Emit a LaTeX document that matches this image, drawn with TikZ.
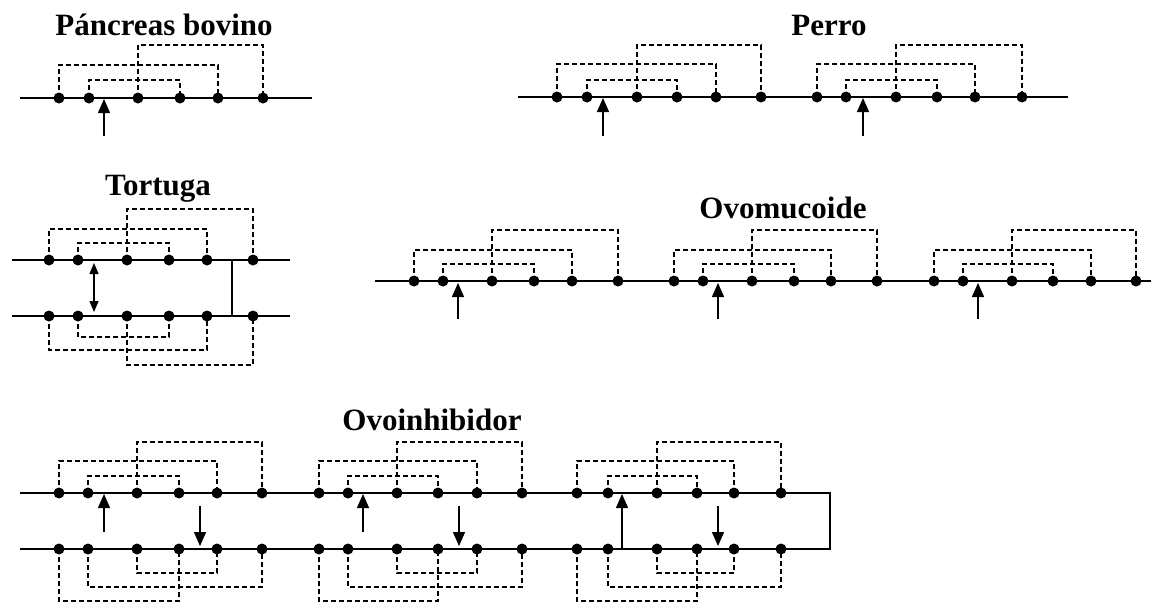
\documentclass[tikz,border=0pt]{standalone}
\usepackage{fontspec}
\setmainfont{Liberation Serif}
\usetikzlibrary{arrows.meta}
\tikzset{
  x=1pt, y=-1pt,
  dot/.style={circle,fill=black,draw=none,inner sep=0pt,minimum size=11pt},
  dsh/.style={line width=1.2pt,dash pattern=on 5pt off 3pt},
  strand/.style={line width=1.5pt},
  arr/.style={line width=1.4pt,-{Triangle[length=14pt,width=12pt]}},
  darr/.style={line width=1.4pt,{Triangle[length=11pt,width=9pt]}-{Triangle[length=11pt,width=9pt]}},
  ttl/.style={font=\fontsize{31}{31}\selectfont\bfseries,anchor=base,inner sep=0pt},
}
\newcommand\placedots[3]{\foreach \xx [count=\ii] in {#3}{\node[dot] (#1\ii) at (\xx,#2) {};}}
\newcommand\brk[3]{\draw[dsh] (#1.center) -- (#1.center |- 0,#3) -| (#2.center);}
\newcommand\mkarrow[4]{\coordinate (#1a) at (#2,#3); \coordinate (#1b) at (#2,#4); \draw[arr] (#1a) -- (#1b);}
\begin{document}
\begin{tikzpicture}
\useasboundingbox (0,0) rectangle (1151,603);

% ---------- Pancreas bovino ----------
\node[ttl] (tPB) at (164,35) {Páncreas bovino};
\coordinate (pbL) at (20,98); \coordinate (pbR) at (312,98);
\draw[strand] (pbL) -- (pbR);
\placedots{pb}{98}{59,89,138,180,218,263}
\brk{pb3}{pb6}{45} \brk{pb1}{pb5}{65} \brk{pb2}{pb4}{80}
\mkarrow{pbA}{104}{136}{99}

% ---------- Perro ----------
\node[ttl] (tPe) at (829,35) {Perro};
\coordinate (peL) at (518,97); \coordinate (peR) at (1068,97);
\draw[strand] (peL) -- (peR);
\placedots{peA}{97}{557,587,637,677,716,761}
\placedots{peB}{97}{817,846,896,937,975,1022}
\brk{peA3}{peA6}{45} \brk{peA1}{peA5}{64} \brk{peA2}{peA4}{80}
\brk{peB3}{peB6}{45} \brk{peB1}{peB5}{64} \brk{peB2}{peB4}{80}
\mkarrow{peX}{603}{136}{98}
\mkarrow{peY}{863}{136}{98}

% ---------- Tortuga ----------
\node[ttl] (tTu) at (158,195) {Tortuga};
\coordinate (tuL1) at (12,260); \coordinate (tuR1) at (290,260);
\coordinate (tuL2) at (12,316); \coordinate (tuR2) at (290,316);
\draw[strand] (tuL1) -- (tuR1);
\draw[strand] (tuL2) -- (tuR2);
\placedots{tuT}{260}{49,78,127,169,207,253}
\placedots{tuB}{316}{49,78,127,169,207,253}
\brk{tuT3}{tuT6}{209} \brk{tuT1}{tuT5}{229} \brk{tuT2}{tuT4}{243}
\brk{tuB2}{tuB4}{337} \brk{tuB1}{tuB5}{350} \brk{tuB3}{tuB6}{365}
\coordinate (tuV1) at (232,260); \coordinate (tuV2) at (232,316);
\draw[strand] (tuV1) -- (tuV2);
\coordinate (tuD1) at (94,263); \coordinate (tuD2) at (94,312);
\draw[darr] (tuD1) -- (tuD2);

% ---------- Ovomucoide ----------
\node[ttl] (tOm) at (783,218) {Ovomucoide};
\coordinate (omL) at (375,281); \coordinate (omR) at (1151,281);
\draw[strand] (omL) -- (omR);
\placedots{omA}{281}{414,443,492,534,572,618}
\placedots{omB}{281}{674,703,752,794,831,877}
\placedots{omC}{281}{934,963,1012,1053,1091,1136}
\foreach \g in {omA,omB,omC}{\brk{\g3}{\g6}{230} \brk{\g1}{\g5}{250} \brk{\g2}{\g4}{264}}
\mkarrow{omX}{458}{319}{283}
\mkarrow{omY}{718}{319}{283}
\mkarrow{omZ}{978}{319}{283}

% ---------- Ovoinhibidor ----------
\node[ttl] (tOi) at (432,430) {Ovoinhibidor};
\coordinate (oiL1) at (20,493); \coordinate (oiR1) at (830,493);
\coordinate (oiL2) at (20,549); \coordinate (oiR2) at (830,549);
\draw[strand] (oiL1) -- (oiR1) -- (oiR2) -- (oiL2);
\placedots{oiAt}{493}{59,88,137,179,217,262}
\placedots{oiBt}{493}{319,348,397,438,477,522}
\placedots{oiCt}{493}{577,608,657,697,734,781}
\placedots{oiAb}{549}{59,88,137,179,217,262}
\placedots{oiBb}{549}{319,348,397,438,477,522}
\placedots{oiCb}{549}{577,608,657,697,734,781}
\foreach \g in {oiAt,oiBt,oiCt}{\brk{\g3}{\g6}{442} \brk{\g1}{\g5}{461} \brk{\g2}{\g4}{476}}
\foreach \g in {oiAb,oiBb,oiCb}{\brk{\g3}{\g5}{573} \brk{\g2}{\g6}{587} \brk{\g1}{\g4}{601}}
\mkarrow{oiU1}{104}{532}{494}
\mkarrow{oiU2}{363}{532}{494}
\mkarrow{oiU3}{622}{548}{494}
\mkarrow{oiD1}{200}{506}{546}
\mkarrow{oiD2}{459}{506}{546}
\mkarrow{oiD3}{718}{506}{546}
\end{tikzpicture}
\end{document}
